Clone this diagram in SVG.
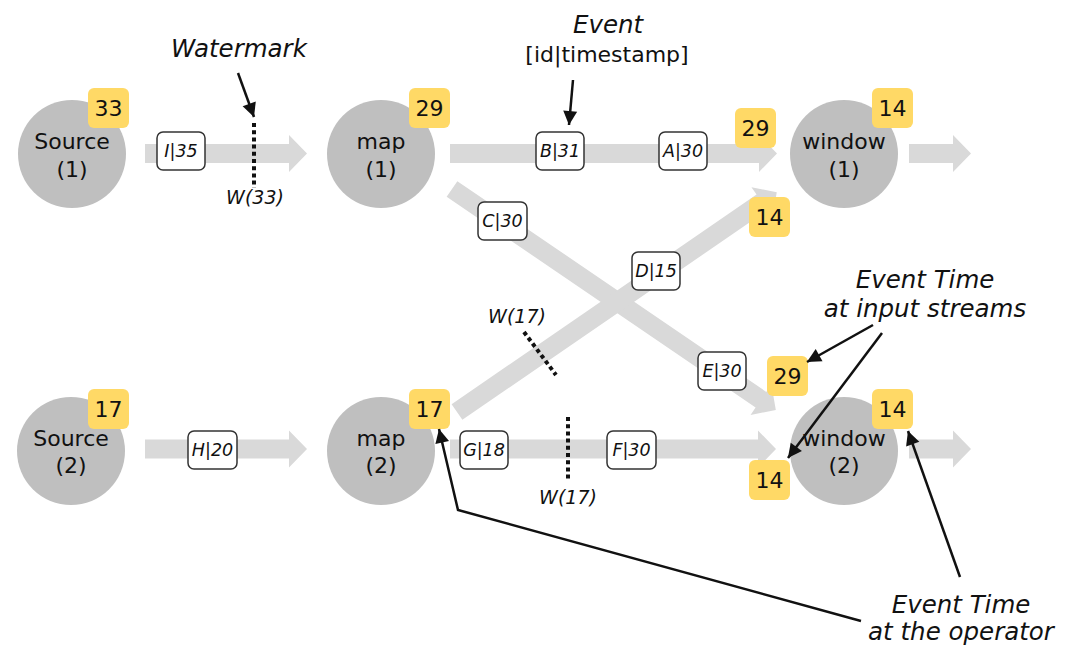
<svg xmlns="http://www.w3.org/2000/svg" width="1080" height="662" viewBox="0 0 1080 662">
<defs>
<style>
text{font-family:"DejaVu Sans","Verdana",sans-serif;fill:#111;}
.op{fill:#BFBFBF;}
.lbl{font-size:22px;text-anchor:middle;}
.badge rect{fill:#FFD966;}
.badge text{font-size:22px;text-anchor:middle;}
.flow{fill:#D9D9D9;}
.ev rect{fill:#fff;stroke:#333;stroke-width:1.5;}
.ev text{font-size:17.5px;font-style:italic;text-anchor:middle;}
.wm{stroke:#111;stroke-width:4;stroke-dasharray:4 3.2;fill:none;}
.wmt{font-size:19px;font-style:italic;text-anchor:middle;}
.note{font-size:24.5px;font-style:italic;text-anchor:middle;}
.ptr{stroke:#111;stroke-width:2.5;fill:none;marker-end:url(#ah);}
</style>
<marker id="ah" markerWidth="10" markerHeight="10" viewBox="0 0 10 10" refX="9" refY="5" orient="auto" markerUnits="userSpaceOnUse" style="overflow:visible">
<path d="M0,0 L10,5 L0,10 Z" fill="#111" transform="scale(1.4) translate(-3.5,-1.4)"/>
</marker>
</defs>
<rect width="1080" height="662" fill="#fff"/>

<g id="connectors">
<path class="flow" transform="translate(145,153.5)" d="M0,-9.5 H144 V-18.5 L162,0 L144,18.5 V9.5 H0 Z"/>
<path class="flow" transform="translate(450,153.5)" d="M0,-9.5 H309 V-18.5 L327,0 L309,18.5 V9.5 H0 Z"/>
<path class="flow" transform="translate(909,153.5)" d="M0,-9.5 H44 V-18.5 L62,0 L44,18.5 V9.5 H0 Z"/>
<path class="flow" transform="translate(145,449)" d="M0,-9.5 H144 V-18.5 L162,0 L144,18.5 V9.5 H0 Z"/>
<path class="flow" transform="translate(450,449)" d="M0,-9.5 H308 V-18.5 L326,0 L308,18.5 V9.5 H0 Z"/>
<path class="flow" transform="translate(909,449)" d="M0,-9.5 H44 V-18.5 L62,0 L44,18.5 V9.5 H0 Z"/>
<path class="flow" transform="translate(452,189) rotate(34.3)" d="M0,-9.5 H374 V-18.5 L392,0 L374,18.5 V9.5 H0 Z"/>
<path class="flow" transform="translate(457,412) rotate(-34.5)" d="M0,-9.5 H370 V-18.5 L388,0 L370,18.5 V9.5 H0 Z"/>
</g>

<g id="source1"><circle class="op" cx="72" cy="154" r="54"/><text class="lbl" x="72" y="149">Source</text><text class="lbl" x="72" y="177">(1)</text></g>
<g id="map1"><circle class="op" cx="381" cy="154" r="54"/><text class="lbl" x="381" y="149">map</text><text class="lbl" x="381" y="177">(1)</text></g>
<g id="window1"><circle class="op" cx="844" cy="154" r="54"/><text class="lbl" x="844" y="149">window</text><text class="lbl" x="844" y="177">(1)</text></g>
<g id="source2"><circle class="op" cx="71" cy="451" r="54"/><text class="lbl" x="71" y="446">Source</text><text class="lbl" x="71" y="473">(2)</text></g>
<g id="map2"><circle class="op" cx="381" cy="451" r="54"/><text class="lbl" x="381" y="446">map</text><text class="lbl" x="381" y="473">(2)</text></g>
<g id="window2"><circle class="op" cx="844" cy="451" r="54"/><text class="lbl" x="844" y="446">window</text><text class="lbl" x="844" y="473">(2)</text></g>

<g id="events">
<g class="ev"><rect x="157" y="132" width="48" height="38" rx="6"/><text x="181" y="157">I|35</text></g>
<g class="ev"><rect x="536" y="132" width="48" height="38" rx="6"/><text x="560" y="157">B|31</text></g>
<g class="ev"><rect x="659" y="132" width="48" height="38" rx="6"/><text x="683" y="157">A|30</text></g>
<g class="ev"><rect x="478" y="202" width="49" height="38" rx="6"/><text x="502.5" y="227">C|30</text></g>
<g class="ev"><rect x="632" y="252" width="48" height="38" rx="6"/><text x="656" y="277">D|15</text></g>
<g class="ev"><rect x="698" y="352" width="48" height="38" rx="6"/><text x="722" y="377">E|30</text></g>
<g class="ev"><rect x="188" y="431" width="49" height="38" rx="6"/><text x="212.5" y="456">H|20</text></g>
<g class="ev"><rect x="460" y="431" width="48" height="38" rx="6"/><text x="484" y="456">G|18</text></g>
<g class="ev"><rect x="607" y="431" width="49" height="38" rx="6"/><text x="631.5" y="456">F|30</text></g>
</g>

<g id="badges">
<g class="badge"><rect x="88" y="88" width="41" height="40" rx="6"/><text x="108.5" y="116">33</text></g>
<g class="badge"><rect x="409" y="88" width="41" height="40" rx="6"/><text x="429.5" y="116">29</text></g>
<g class="badge"><rect x="735" y="108" width="41" height="40" rx="6"/><text x="755.5" y="136">29</text></g>
<g class="badge"><rect x="872" y="88" width="41" height="40" rx="6"/><text x="892.5" y="116">14</text></g>
<g class="badge"><rect x="749" y="197" width="41" height="40" rx="6"/><text x="769.5" y="225">14</text></g>
<g class="badge"><rect x="88" y="389" width="41" height="40" rx="6"/><text x="108.5" y="417">17</text></g>
<g class="badge"><rect x="409" y="389" width="41" height="40" rx="6"/><text x="429.5" y="417">17</text></g>
<g class="badge"><rect x="767" y="356" width="41" height="40" rx="6"/><text x="787.5" y="384">29</text></g>
<g class="badge"><rect x="872" y="389" width="41" height="40" rx="6"/><text x="892.5" y="417">14</text></g>
<g class="badge"><rect x="749" y="460" width="41" height="40" rx="6"/><text x="769.5" y="488">14</text></g>
</g>

<g id="watermarks">
<line class="wm" x1="254" y1="123" x2="254" y2="188"/>
<text class="wmt" x="255" y="204">W(33)</text>
<line class="wm" x1="524" y1="332" x2="556" y2="375"/>
<text class="wmt" x="517" y="323">W(17)</text>
<line class="wm" x1="568" y1="417" x2="568" y2="479"/>
<text class="wmt" x="568" y="504">W(17)</text>
</g>

<g id="annotations">
<text class="note" x="239" y="57">Watermark</text>
<text class="note" x="608" y="33">Event</text>
<text x="607" y="62" style="font-size:22px;text-anchor:middle">[id|timestamp]</text>
<text class="note" x="925" y="288">Event Time</text>
<text class="note" x="925" y="317">at input streams</text>
<text class="note" x="961" y="613">Event Time</text>
<text class="note" x="961" y="640">at the operator</text>
<line class="ptr" x1="238" y1="73" x2="254" y2="117"/>
<line class="ptr" x1="573" y1="80" x2="569" y2="125"/>
<line class="ptr" x1="873" y1="325" x2="807" y2="362"/>
<line class="ptr" x1="882" y1="333" x2="788" y2="458"/>
<polyline class="ptr" points="861,621 458,510 439,429"/>
<line class="ptr" x1="960" y1="577" x2="908" y2="431"/>
</g>
</svg>
